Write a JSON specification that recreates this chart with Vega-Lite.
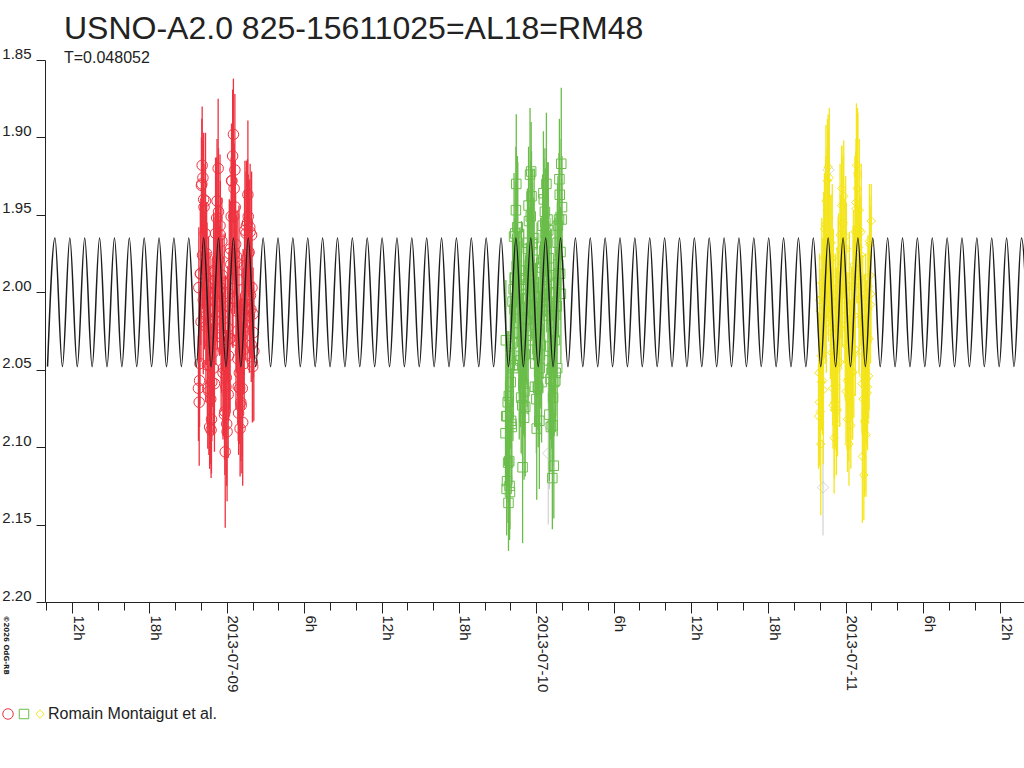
{
  "$schema": "https://vega.github.io/schema/vega-lite/v6.json",
  "width": 979,
  "height": 542,
  "autosize": {"type": "none"},
  "padding": {"left": 45, "top": 60, "right": 0, "bottom": 166},
  "background": "white",
  "config": {"view": {"stroke": null}, "font": "Liberation Sans"},
  "title": {
    "text": "USNO-A2.0 825-15611025=AL18=RM48",
    "subtitle": "T=0.048052",
    "anchor": "start",
    "frame": "group",
    "font": "Liberation Sans",
    "fontSize": 32,
    "fontWeight": "normal",
    "color": "#222222",
    "subtitleFont": "Liberation Sans",
    "subtitleFontSize": 16,
    "subtitleColor": "#222222",
    "subtitlePadding": 4,
    "dx": 19,
    "dy": 21,
    "offset": 0
  },
  "datasets": {
    "obs": [
      {"n":"1","h":21.802,"m":2.062,"e":0.034},{"n":"1","h":21.859,"m":2.071,"e":0.041},{"n":"1","h":21.917,"m":2.046,"e":0.027},{"n":"1","h":21.975,"m":1.988,"e":0.046},
      {"n":"1","h":22.032,"m":1.931,"e":0.031},{"n":"1","h":22.090,"m":1.918,"e":0.038},{"n":"1","h":22.148,"m":1.926,"e":0.024},{"n":"1","h":22.206,"m":1.940,"e":0.043},
      {"n":"1","h":22.263,"m":2.001,"e":0.036},{"n":"1","h":22.321,"m":1.962,"e":0.029},{"n":"1","h":22.379,"m":2.022,"e":0.049},{"n":"1","h":22.436,"m":1.975,"e":0.033},
      {"n":"1","h":22.494,"m":2.047,"e":0.040},{"n":"1","h":22.552,"m":2.006,"e":0.034},{"n":"1","h":22.609,"m":2.064,"e":0.041},{"n":"1","h":22.667,"m":2.087,"e":0.027},
      {"n":"1","h":22.724,"m":2.033,"e":0.046},{"n":"1","h":22.782,"m":2.089,"e":0.031},{"n":"1","h":22.840,"m":2.058,"e":0.038},{"n":"1","h":22.897,"m":2.021,"e":0.024},
      {"n":"1","h":22.955,"m":2.049,"e":0.043},{"n":"1","h":23.013,"m":1.987,"e":0.036},{"n":"1","h":23.070,"m":2.018,"e":0.029},{"n":"1","h":23.128,"m":1.962,"e":0.049},
      {"n":"1","h":23.186,"m":1.999,"e":0.033},{"n":"1","h":23.243,"m":1.941,"e":0.040},{"n":"1","h":23.301,"m":1.978,"e":0.034},{"n":"1","h":23.359,"m":1.948,"e":0.041},
      {"n":"1","h":23.416,"m":1.996,"e":0.027},{"n":"1","h":23.474,"m":1.957,"e":0.046},{"n":"1","h":23.532,"m":2.009,"e":0.031},{"n":"1","h":23.589,"m":2.027,"e":0.038},
      {"n":"1","h":23.647,"m":1.989,"e":0.024},{"n":"1","h":23.705,"m":2.052,"e":0.043},{"n":"1","h":23.762,"m":2.037,"e":0.036},{"n":"1","h":23.820,"m":2.079,"e":0.029},
      {"n":"1","h":23.878,"m":2.103,"e":0.049},{"n":"1","h":23.935,"m":2.061,"e":0.033},{"n":"1","h":23.993,"m":2.085,"e":0.040},{"n":"1","h":24.051,"m":2.023,"e":0.034},
      {"n":"1","h":24.108,"m":2.066,"e":0.041},{"n":"1","h":24.166,"m":2.001,"e":0.027},{"n":"1","h":24.224,"m":2.030,"e":0.046},{"n":"1","h":24.281,"m":1.972,"e":0.031},
      {"n":"1","h":24.339,"m":1.951,"e":0.038},{"n":"1","h":24.397,"m":1.928,"e":0.024},{"n":"1","h":24.454,"m":1.912,"e":0.043},{"n":"1","h":24.512,"m":1.898,"e":0.036},
      {"n":"1","h":24.570,"m":1.933,"e":0.029},{"n":"1","h":24.627,"m":1.921,"e":0.049},{"n":"1","h":24.685,"m":1.969,"e":0.033},{"n":"1","h":24.743,"m":2.012,"e":0.040},
      {"n":"1","h":24.800,"m":1.981,"e":0.034},{"n":"1","h":24.858,"m":2.043,"e":0.041},{"n":"1","h":24.916,"m":2.078,"e":0.027},{"n":"1","h":24.973,"m":2.052,"e":0.046},
      {"n":"1","h":25.031,"m":2.088,"e":0.031},{"n":"1","h":25.089,"m":2.071,"e":0.038},{"n":"1","h":25.146,"m":2.029,"e":0.024},{"n":"1","h":25.204,"m":2.062,"e":0.043},
      {"n":"1","h":25.262,"m":2.008,"e":0.036},{"n":"1","h":25.319,"m":2.037,"e":0.029},{"n":"1","h":25.377,"m":1.983,"e":0.049},{"n":"1","h":25.435,"m":2.011,"e":0.033},
      {"n":"1","h":25.492,"m":1.962,"e":0.040},{"n":"1","h":25.550,"m":1.989,"e":0.034},{"n":"1","h":25.608,"m":1.955,"e":0.041},{"n":"1","h":25.665,"m":1.951,"e":0.027},
      {"n":"1","h":25.723,"m":1.974,"e":0.046},{"n":"1","h":25.781,"m":1.958,"e":0.031},{"n":"1","h":25.838,"m":2.002,"e":0.038},{"n":"1","h":25.896,"m":2.034,"e":0.024},
      {"n":"1","h":25.954,"m":1.997,"e":0.043},{"n":"1","h":26.011,"m":2.048,"e":0.036},{"n":"1","h":26.069,"m":2.026,"e":0.029},
      {"n":"1","h":21.831,"m":1.997,"e":0.039},{"n":"1","h":21.888,"m":2.057,"e":0.030},{"n":"1","h":21.946,"m":1.988,"e":0.045},{"n":"1","h":22.004,"m":2.019,"e":0.026},
      {"n":"1","h":22.061,"m":1.930,"e":0.042},{"n":"1","h":22.119,"m":1.976,"e":0.035},{"n":"1","h":22.177,"m":2.005,"e":0.048},{"n":"1","h":22.235,"m":1.945,"e":0.028},
      {"n":"1","h":22.292,"m":1.985,"e":0.037},{"n":"1","h":22.350,"m":1.941,"e":0.044},{"n":"1","h":22.408,"m":2.015,"e":0.032},{"n":"1","h":22.465,"m":1.996,"e":0.041},
      {"n":"1","h":22.523,"m":2.062,"e":0.039},{"n":"1","h":22.581,"m":1.994,"e":0.030},{"n":"1","h":22.638,"m":2.047,"e":0.045},{"n":"1","h":22.696,"m":2.000,"e":0.026},
      {"n":"1","h":22.753,"m":2.069,"e":0.042},{"n":"1","h":22.811,"m":2.082,"e":0.035},{"n":"1","h":22.869,"m":2.026,"e":0.048},{"n":"1","h":22.926,"m":2.039,"e":0.028},
      {"n":"1","h":22.984,"m":1.986,"e":0.037},{"n":"1","h":23.042,"m":2.059,"e":0.044},{"n":"1","h":23.099,"m":1.992,"e":0.032},{"n":"1","h":23.157,"m":2.006,"e":0.041},
      {"n":"1","h":23.215,"m":1.952,"e":0.039},{"n":"1","h":23.272,"m":2.007,"e":0.030},{"n":"1","h":23.330,"m":1.920,"e":0.045},{"n":"1","h":23.388,"m":1.979,"e":0.026},
      {"n":"1","h":23.445,"m":1.999,"e":0.042},{"n":"1","h":23.503,"m":1.963,"e":0.035},{"n":"1","h":23.561,"m":2.029,"e":0.048},{"n":"1","h":23.618,"m":1.967,"e":0.028},
      {"n":"1","h":23.676,"m":2.014,"e":0.037},{"n":"1","h":23.733,"m":2.049,"e":0.044},{"n":"1","h":23.791,"m":1.994,"e":0.032},{"n":"1","h":23.849,"m":2.077,"e":0.041},
      {"n":"1","h":23.906,"m":2.028,"e":0.039},{"n":"1","h":23.964,"m":2.055,"e":0.030},{"n":"1","h":24.022,"m":2.090,"e":0.045},{"n":"1","h":24.079,"m":2.009,"e":0.026},
      {"n":"1","h":24.137,"m":2.041,"e":0.042},{"n":"1","h":24.195,"m":1.975,"e":0.035},{"n":"1","h":24.252,"m":2.030,"e":0.048},{"n":"1","h":24.310,"m":1.982,"e":0.028},
      {"n":"1","h":24.368,"m":1.928,"e":0.037},{"n":"1","h":24.426,"m":1.991,"e":0.044},{"n":"1","h":24.483,"m":2.004,"e":0.032},{"n":"1","h":24.541,"m":1.951,"e":0.041},
      {"n":"1","h":24.599,"m":1.975,"e":0.039},{"n":"1","h":24.656,"m":1.945,"e":0.030},{"n":"1","h":24.714,"m":2.031,"e":0.045},{"n":"1","h":24.772,"m":1.977,"e":0.026},
      {"n":"1","h":24.829,"m":2.025,"e":0.042},{"n":"1","h":24.887,"m":2.061,"e":0.035},{"n":"1","h":24.945,"m":1.992,"e":0.048},{"n":"1","h":25.002,"m":2.062,"e":0.028},
      {"n":"1","h":25.060,"m":2.038,"e":0.037},{"n":"1","h":25.118,"m":2.073,"e":0.044},{"n":"1","h":25.175,"m":2.008,"e":0.032},{"n":"1","h":25.233,"m":2.084,"e":0.041},
      {"n":"1","h":25.290,"m":2.023,"e":0.039},{"n":"1","h":25.348,"m":2.046,"e":0.030},{"n":"1","h":25.406,"m":1.960,"e":0.045},{"n":"1","h":25.463,"m":2.002,"e":0.026},
      {"n":"1","h":25.521,"m":1.957,"e":0.042},{"n":"1","h":25.579,"m":2.010,"e":0.035},{"n":"1","h":25.636,"m":1.937,"e":0.048},{"n":"1","h":25.694,"m":1.975,"e":0.028},
      {"n":"1","h":25.752,"m":2.015,"e":0.037},{"n":"1","h":25.810,"m":1.961,"e":0.044},{"n":"1","h":25.867,"m":2.011,"e":0.032},{"n":"1","h":25.925,"m":1.963,"e":0.041},
      {"n":"1","h":25.983,"m":2.045,"e":0.039},{"n":"1","h":26.040,"m":2.014,"e":0.030},{"n":"1","h":26.098,"m":2.038,"e":0.045},
      {"n":"2","h":45.616,"m":2.091,"e":0.034},{"n":"2","h":45.674,"m":2.080,"e":0.041},{"n":"2","h":45.731,"m":2.122,"e":0.027},{"n":"2","h":45.789,"m":2.071,"e":0.046},
      {"n":"2","h":45.847,"m":2.136,"e":0.031},{"n":"2","h":45.904,"m":2.109,"e":0.038},{"n":"2","h":45.962,"m":2.129,"e":0.024},{"n":"2","h":46.020,"m":2.058,"e":0.043},
      {"n":"2","h":46.077,"m":2.085,"e":0.036},{"n":"2","h":46.135,"m":2.033,"e":0.029},{"n":"2","h":46.193,"m":2.047,"e":0.049},{"n":"2","h":46.250,"m":1.998,"e":0.033},
      {"n":"2","h":46.308,"m":2.011,"e":0.040},{"n":"2","h":46.366,"m":1.962,"e":0.034},{"n":"2","h":46.423,"m":1.947,"e":0.041},{"n":"2","h":46.481,"m":1.983,"e":0.027},
      {"n":"2","h":46.539,"m":1.958,"e":0.046},{"n":"2","h":46.596,"m":2.004,"e":0.031},{"n":"2","h":46.654,"m":2.026,"e":0.038},{"n":"2","h":46.712,"m":1.991,"e":0.024},
      {"n":"2","h":46.769,"m":2.044,"e":0.043},{"n":"2","h":46.827,"m":2.068,"e":0.036},{"n":"2","h":46.885,"m":2.032,"e":0.029},{"n":"2","h":46.942,"m":2.113,"e":0.049},
      {"n":"2","h":47.000,"m":2.059,"e":0.033},{"n":"2","h":47.058,"m":2.081,"e":0.040},{"n":"2","h":47.115,"m":2.040,"e":0.034},{"n":"2","h":47.173,"m":2.017,"e":0.041},
      {"n":"2","h":47.231,"m":1.995,"e":0.027},{"n":"2","h":47.288,"m":2.028,"e":0.046},{"n":"2","h":47.346,"m":1.972,"e":0.031},{"n":"2","h":47.404,"m":1.944,"e":0.038},
      {"n":"2","h":47.461,"m":1.986,"e":0.024},{"n":"2","h":47.519,"m":1.924,"e":0.043},{"n":"2","h":47.577,"m":1.951,"e":0.036},{"n":"2","h":47.634,"m":1.938,"e":0.029},
      {"n":"2","h":47.692,"m":1.969,"e":0.049},{"n":"2","h":47.750,"m":1.997,"e":0.033},{"n":"2","h":47.807,"m":1.979,"e":0.040},{"n":"2","h":47.865,"m":2.021,"e":0.034},
      {"n":"2","h":47.923,"m":2.046,"e":0.041},{"n":"2","h":47.980,"m":2.008,"e":0.027},{"n":"2","h":48.038,"m":2.088,"e":0.046},{"n":"2","h":48.096,"m":2.037,"e":0.031},
      {"n":"2","h":48.153,"m":2.062,"e":0.038},{"n":"2","h":48.211,"m":2.024,"e":0.024},{"n":"2","h":48.269,"m":2.049,"e":0.043},{"n":"2","h":48.326,"m":2.003,"e":0.036},
      {"n":"2","h":48.384,"m":1.981,"e":0.029},{"n":"2","h":48.442,"m":2.012,"e":0.049},{"n":"2","h":48.499,"m":1.957,"e":0.033},{"n":"2","h":48.557,"m":1.936,"e":0.040},
      {"n":"2","h":48.615,"m":1.973,"e":0.034},{"n":"2","h":48.672,"m":1.948,"e":0.041},{"n":"2","h":48.730,"m":1.962,"e":0.027},{"n":"2","h":48.788,"m":1.930,"e":0.046},
      {"n":"2","h":48.845,"m":1.990,"e":0.031},{"n":"2","h":48.903,"m":2.015,"e":0.038},{"n":"2","h":48.961,"m":1.978,"e":0.024},{"n":"2","h":49.018,"m":2.079,"e":0.043},
      {"n":"2","h":49.076,"m":2.035,"e":0.036},{"n":"2","h":49.134,"m":2.087,"e":0.029},{"n":"2","h":49.191,"m":2.052,"e":0.049},{"n":"2","h":49.249,"m":2.120,"e":0.033},
      {"n":"2","h":49.307,"m":2.068,"e":0.040},{"n":"2","h":49.364,"m":2.112,"e":0.034},{"n":"2","h":49.422,"m":2.031,"e":0.041},{"n":"2","h":49.480,"m":2.057,"e":0.027},
      {"n":"2","h":49.537,"m":1.994,"e":0.046},{"n":"2","h":49.595,"m":2.009,"e":0.031},{"n":"2","h":49.653,"m":1.968,"e":0.038},{"n":"2","h":49.710,"m":1.982,"e":0.024},
      {"n":"2","h":49.768,"m":1.953,"e":0.043},{"n":"2","h":49.826,"m":1.937,"e":0.036},{"n":"2","h":49.883,"m":1.974,"e":0.029},{"n":"2","h":49.941,"m":1.917,"e":0.049},
      {"n":"2","h":49.999,"m":1.945,"e":0.033},
      {"n":"2","h":45.645,"m":2.031,"e":0.039},{"n":"2","h":45.703,"m":2.127,"e":0.030},{"n":"2","h":45.760,"m":2.080,"e":0.045},{"n":"2","h":45.818,"m":2.110,"e":0.026},
      {"n":"2","h":45.876,"m":2.067,"e":0.042},{"n":"2","h":45.933,"m":2.125,"e":0.035},{"n":"2","h":45.991,"m":2.035,"e":0.048},{"n":"2","h":46.049,"m":2.083,"e":0.028},
      {"n":"2","h":46.106,"m":2.087,"e":0.037},{"n":"2","h":46.164,"m":2.006,"e":0.044},{"n":"2","h":46.222,"m":2.049,"e":0.032},{"n":"2","h":46.279,"m":1.964,"e":0.041},
      {"n":"2","h":46.337,"m":1.991,"e":0.039},{"n":"2","h":46.395,"m":1.990,"e":0.030},{"n":"2","h":46.452,"m":1.930,"e":0.045},{"n":"2","h":46.510,"m":2.004,"e":0.026},
      {"n":"2","h":46.568,"m":1.958,"e":0.042},{"n":"2","h":46.625,"m":1.996,"e":0.035},{"n":"2","h":46.683,"m":2.047,"e":0.048},{"n":"2","h":46.741,"m":1.986,"e":0.028},
      {"n":"2","h":46.798,"m":2.041,"e":0.037},{"n":"2","h":46.856,"m":1.998,"e":0.044},{"n":"2","h":46.914,"m":2.073,"e":0.032},{"n":"2","h":46.971,"m":2.041,"e":0.041},
      {"n":"2","h":47.029,"m":1.998,"e":0.039},{"n":"2","h":47.087,"m":2.064,"e":0.030},{"n":"2","h":47.144,"m":2.074,"e":0.045},{"n":"2","h":47.202,"m":2.010,"e":0.026},
      {"n":"2","h":47.260,"m":2.018,"e":0.042},{"n":"2","h":47.317,"m":1.968,"e":0.035},{"n":"2","h":47.375,"m":2.031,"e":0.048},{"n":"2","h":47.433,"m":1.954,"e":0.028},
      {"n":"2","h":47.490,"m":1.982,"e":0.037},{"n":"2","h":47.548,"m":2.002,"e":0.044},{"n":"2","h":47.606,"m":1.922,"e":0.032},{"n":"2","h":47.663,"m":1.989,"e":0.041},
      {"n":"2","h":47.721,"m":1.968,"e":0.039},{"n":"2","h":47.779,"m":2.014,"e":0.030},{"n":"2","h":47.836,"m":1.965,"e":0.045},{"n":"2","h":47.894,"m":2.061,"e":0.026},
      {"n":"2","h":47.952,"m":2.023,"e":0.042},{"n":"2","h":48.009,"m":2.069,"e":0.035},{"n":"2","h":48.067,"m":2.003,"e":0.048},{"n":"2","h":48.125,"m":2.061,"e":0.028},
      {"n":"2","h":48.182,"m":2.027,"e":0.037},{"n":"2","h":48.240,"m":2.083,"e":0.044},{"n":"2","h":48.298,"m":2.007,"e":0.032},{"n":"2","h":48.355,"m":2.034,"e":0.041},
      {"n":"2","h":48.413,"m":2.058,"e":0.039},{"n":"2","h":48.471,"m":1.984,"e":0.030},{"n":"2","h":48.528,"m":2.011,"e":0.045},{"n":"2","h":48.586,"m":1.940,"e":0.026},
      {"n":"2","h":48.644,"m":2.002,"e":0.042},{"n":"2","h":48.701,"m":1.955,"e":0.035},{"n":"2","h":48.759,"m":1.968,"e":0.048},{"n":"2","h":48.817,"m":1.998,"e":0.028},
      {"n":"2","h":48.874,"m":1.953,"e":0.037},{"n":"2","h":48.932,"m":1.960,"e":0.044},{"n":"2","h":48.990,"m":2.044,"e":0.032},{"n":"2","h":49.047,"m":2.001,"e":0.041},
      {"n":"2","h":49.105,"m":2.056,"e":0.039},{"n":"2","h":49.163,"m":1.989,"e":0.030},{"n":"2","h":49.220,"m":2.049,"e":0.045},{"n":"2","h":49.278,"m":2.086,"e":0.026},
      {"n":"2","h":49.336,"m":2.026,"e":0.042},{"n":"2","h":49.393,"m":2.058,"e":0.035},{"n":"2","h":49.451,"m":2.000,"e":0.048},{"n":"2","h":49.509,"m":2.052,"e":0.028},
      {"n":"2","h":49.566,"m":2.009,"e":0.037},{"n":"2","h":49.624,"m":2.049,"e":0.044},{"n":"2","h":49.682,"m":1.957,"e":0.032},{"n":"2","h":49.739,"m":1.988,"e":0.041},
      {"n":"2","h":49.797,"m":1.927,"e":0.039},{"n":"2","h":49.855,"m":1.988,"e":0.030},{"n":"2","h":49.912,"m":2.001,"e":0.045},{"n":"2","h":49.970,"m":1.953,"e":0.026},
      {"n":"3","h":69.892,"m":2.080,"e":0.034},{"n":"3","h":69.950,"m":2.071,"e":0.041},{"n":"3","h":70.008,"m":2.012,"e":0.027},{"n":"3","h":70.065,"m":2.098,"e":0.046},
      {"n":"3","h":70.123,"m":2.058,"e":0.031},{"n":"3","h":70.181,"m":2.003,"e":0.038},{"n":"3","h":70.238,"m":2.044,"e":0.024},{"n":"3","h":70.296,"m":1.978,"e":0.043},
      {"n":"3","h":70.353,"m":1.959,"e":0.036},{"n":"3","h":70.411,"m":2.017,"e":0.029},{"n":"3","h":70.469,"m":1.941,"e":0.049},{"n":"3","h":70.526,"m":1.995,"e":0.033},
      {"n":"3","h":70.584,"m":1.928,"e":0.040},{"n":"3","h":70.642,"m":1.919,"e":0.034},{"n":"3","h":70.699,"m":1.952,"e":0.041},{"n":"3","h":70.757,"m":1.986,"e":0.027},
      {"n":"3","h":70.815,"m":2.010,"e":0.046},{"n":"3","h":70.872,"m":1.968,"e":0.031},{"n":"3","h":70.930,"m":2.039,"e":0.038},{"n":"3","h":70.988,"m":2.062,"e":0.024},
      {"n":"3","h":71.045,"m":2.002,"e":0.043},{"n":"3","h":71.103,"m":2.094,"e":0.036},{"n":"3","h":71.161,"m":2.071,"e":0.029},{"n":"3","h":71.218,"m":2.033,"e":0.049},
      {"n":"3","h":71.276,"m":2.085,"e":0.033},{"n":"3","h":71.334,"m":2.011,"e":0.040},{"n":"3","h":71.391,"m":2.049,"e":0.034},{"n":"3","h":71.449,"m":1.990,"e":0.041},
      {"n":"3","h":71.506,"m":2.024,"e":0.027},{"n":"3","h":71.564,"m":1.963,"e":0.046},{"n":"3","h":71.622,"m":1.999,"e":0.031},{"n":"3","h":71.679,"m":1.944,"e":0.038},
      {"n":"3","h":71.737,"m":1.981,"e":0.024},{"n":"3","h":71.795,"m":1.956,"e":0.043},{"n":"3","h":71.852,"m":1.938,"e":0.036},{"n":"3","h":71.910,"m":1.997,"e":0.029},
      {"n":"3","h":71.968,"m":2.021,"e":0.049},{"n":"3","h":72.025,"m":2.064,"e":0.033},{"n":"3","h":72.083,"m":2.035,"e":0.040},{"n":"3","h":72.141,"m":2.082,"e":0.034},
      {"n":"3","h":72.198,"m":2.056,"e":0.041},{"n":"3","h":72.256,"m":2.098,"e":0.027},{"n":"3","h":72.314,"m":2.027,"e":0.046},{"n":"3","h":72.371,"m":2.066,"e":0.031},
      {"n":"3","h":72.429,"m":2.044,"e":0.038},{"n":"3","h":72.487,"m":2.007,"e":0.024},{"n":"3","h":72.544,"m":2.052,"e":0.043},{"n":"3","h":72.602,"m":1.983,"e":0.036},
      {"n":"3","h":72.660,"m":2.015,"e":0.029},{"n":"3","h":72.717,"m":1.961,"e":0.049},{"n":"3","h":72.775,"m":1.942,"e":0.033},{"n":"3","h":72.832,"m":1.918,"e":0.040},
      {"n":"3","h":72.890,"m":1.933,"e":0.034},{"n":"3","h":72.948,"m":1.925,"e":0.041},{"n":"3","h":73.005,"m":1.971,"e":0.027},{"n":"3","h":73.063,"m":1.947,"e":0.046},
      {"n":"3","h":73.121,"m":2.004,"e":0.031},{"n":"3","h":73.178,"m":1.976,"e":0.038},{"n":"3","h":73.236,"m":2.038,"e":0.024},{"n":"3","h":73.294,"m":2.106,"e":0.043},
      {"n":"3","h":73.351,"m":2.069,"e":0.036},{"n":"3","h":73.409,"m":2.118,"e":0.029},{"n":"3","h":73.467,"m":2.083,"e":0.049},{"n":"3","h":73.524,"m":2.057,"e":0.033},
      {"n":"3","h":73.582,"m":2.092,"e":0.040},{"n":"3","h":73.640,"m":2.026,"e":0.034},{"n":"3","h":73.697,"m":2.061,"e":0.041},{"n":"3","h":73.755,"m":1.996,"e":0.027},
      {"n":"3","h":73.813,"m":2.030,"e":0.046},{"n":"3","h":73.870,"m":1.969,"e":0.031},{"n":"3","h":73.928,"m":2.008,"e":0.038},{"n":"3","h":73.986,"m":1.954,"e":0.024},
      {"n":"3","h":69.921,"m":2.052,"e":0.039},{"n":"3","h":69.979,"m":2.005,"e":0.030},{"n":"3","h":70.037,"m":2.077,"e":0.045},{"n":"3","h":70.094,"m":2.041,"e":0.026},
      {"n":"3","h":70.152,"m":1.994,"e":0.042},{"n":"3","h":70.210,"m":2.057,"e":0.035},{"n":"3","h":70.267,"m":2.063,"e":0.048},{"n":"3","h":70.325,"m":1.998,"e":0.028},
      {"n":"3","h":70.382,"m":2.005,"e":0.037},{"n":"3","h":70.440,"m":1.956,"e":0.044},{"n":"3","h":70.498,"m":2.020,"e":0.032},{"n":"3","h":70.555,"m":1.947,"e":0.041},
      {"n":"3","h":70.613,"m":1.978,"e":0.039},{"n":"3","h":70.671,"m":2.002,"e":0.030},{"n":"3","h":70.728,"m":1.926,"e":0.045},{"n":"3","h":70.786,"m":1.996,"e":0.026},
      {"n":"3","h":70.844,"m":1.979,"e":0.042},{"n":"3","h":70.901,"m":2.026,"e":0.035},{"n":"3","h":70.959,"m":1.978,"e":0.048},{"n":"3","h":71.017,"m":2.073,"e":0.028},
      {"n":"3","h":71.074,"m":2.034,"e":0.037},{"n":"3","h":71.132,"m":2.076,"e":0.044},{"n":"3","h":71.190,"m":2.007,"e":0.032},{"n":"3","h":71.247,"m":2.061,"e":0.041},
      {"n":"3","h":71.305,"m":2.023,"e":0.039},{"n":"3","h":71.363,"m":2.076,"e":0.030},{"n":"3","h":71.420,"m":1.996,"e":0.045},{"n":"3","h":71.478,"m":2.022,"e":0.026},
      {"n":"3","h":71.535,"m":2.045,"e":0.042},{"n":"3","h":71.593,"m":1.972,"e":0.035},{"n":"3","h":71.651,"m":2.000,"e":0.048},{"n":"3","h":71.708,"m":1.933,"e":0.028},
      {"n":"3","h":71.766,"m":1.998,"e":0.037},{"n":"3","h":71.824,"m":1.955,"e":0.044},{"n":"3","h":71.881,"m":1.972,"e":0.032},{"n":"3","h":71.939,"m":2.005,"e":0.041},
      {"n":"3","h":71.997,"m":1.964,"e":0.039},{"n":"3","h":72.054,"m":1.972,"e":0.030},{"n":"3","h":72.112,"m":2.057,"e":0.045},{"n":"3","h":72.170,"m":2.013,"e":0.026},
      {"n":"3","h":72.227,"m":2.067,"e":0.042},{"n":"3","h":72.285,"m":1.996,"e":0.035},{"n":"3","h":72.343,"m":2.053,"e":0.048},{"n":"3","h":72.400,"m":2.086,"e":0.028},
      {"n":"3","h":72.458,"m":2.022,"e":0.037},{"n":"3","h":72.516,"m":2.051,"e":0.044},{"n":"3","h":72.573,"m":1.989,"e":0.032},{"n":"3","h":72.631,"m":2.040,"e":0.041},
      {"n":"3","h":72.689,"m":1.996,"e":0.039},{"n":"3","h":72.746,"m":2.037,"e":0.030},{"n":"3","h":72.804,"m":1.946,"e":0.045},{"n":"3","h":72.861,"m":1.981,"e":0.026},
      {"n":"3","h":72.919,"m":1.923,"e":0.042},{"n":"3","h":72.977,"m":1.988,"e":0.035},{"n":"3","h":73.034,"m":2.005,"e":0.048},{"n":"3","h":73.092,"m":1.960,"e":0.028},
      {"n":"3","h":73.150,"m":1.991,"e":0.037},{"n":"3","h":73.207,"m":1.961,"e":0.044},{"n":"3","h":73.265,"m":2.059,"e":0.032},{"n":"3","h":73.323,"m":2.017,"e":0.041},
      {"n":"3","h":73.380,"m":2.054,"e":0.039},{"n":"3","h":73.438,"m":2.018,"e":0.030},{"n":"3","h":73.496,"m":2.084,"e":0.045},{"n":"3","h":73.553,"m":2.001,"e":0.026},
      {"n":"3","h":73.611,"m":2.056,"e":0.042},{"n":"3","h":73.669,"m":2.065,"e":0.035},{"n":"3","h":73.726,"m":2.011,"e":0.048},{"n":"3","h":73.784,"m":2.054,"e":0.028},
      {"n":"3","h":73.842,"m":1.967,"e":0.037},{"n":"3","h":73.899,"m":1.989,"e":0.044},{"n":"3","h":73.957,"m":2.001,"e":0.032}
    ],
    "gray": [
      {"h":70.24,"m":2.126,"e":0.031},{"h":70.66,"m":1.921,"e":0.026},{"h":48.93,"m":2.104,"e":0.046},{"h":49.02,"m":2.086,"e":0.041}
    ],
    "model": [
      {"h":10.096,"m":2.048},{"h":10.673,"m":1.965},{"h":11.250,"m":2.048},{"h":11.826,"m":1.965},{"h":12.403,"m":2.048},{"h":12.980,"m":1.965},
      {"h":13.556,"m":2.048},{"h":14.133,"m":1.965},{"h":14.709,"m":2.048},{"h":15.286,"m":1.965},{"h":15.863,"m":2.048},{"h":16.439,"m":1.965},
      {"h":17.016,"m":2.048},{"h":17.593,"m":1.965},{"h":18.169,"m":2.048},{"h":18.746,"m":1.965},{"h":19.322,"m":2.048},{"h":19.899,"m":1.965},
      {"h":20.476,"m":2.048},{"h":21.052,"m":1.965},{"h":21.629,"m":2.048},{"h":22.206,"m":1.965},{"h":22.782,"m":2.048},{"h":23.359,"m":1.965},
      {"h":23.935,"m":2.048},{"h":24.512,"m":1.965},{"h":25.089,"m":2.048},{"h":25.665,"m":1.965},{"h":26.242,"m":2.048},{"h":26.818,"m":1.965},
      {"h":27.395,"m":2.048},{"h":27.972,"m":1.965},{"h":28.548,"m":2.048},{"h":29.125,"m":1.965},{"h":29.702,"m":2.048},{"h":30.278,"m":1.965},
      {"h":30.855,"m":2.048},{"h":31.431,"m":1.965},{"h":32.008,"m":2.048},{"h":32.585,"m":1.965},{"h":33.161,"m":2.048},{"h":33.738,"m":1.965},
      {"h":34.315,"m":2.048},{"h":34.891,"m":1.965},{"h":35.468,"m":2.048},{"h":36.044,"m":1.965},{"h":36.621,"m":2.048},{"h":37.198,"m":1.965},
      {"h":37.774,"m":2.048},{"h":38.351,"m":1.965},{"h":38.928,"m":2.048},{"h":39.504,"m":1.965},{"h":40.081,"m":2.048},{"h":40.657,"m":1.965},
      {"h":41.234,"m":2.048},{"h":41.811,"m":1.965},{"h":42.387,"m":2.048},{"h":42.964,"m":1.965},{"h":43.541,"m":2.048},{"h":44.117,"m":1.965},
      {"h":44.694,"m":2.048},{"h":45.270,"m":1.965},{"h":45.847,"m":2.048},{"h":46.424,"m":1.965},{"h":47.000,"m":2.048},{"h":47.577,"m":1.965},
      {"h":48.154,"m":2.048},{"h":48.730,"m":1.965},{"h":49.307,"m":2.048},{"h":49.883,"m":1.965},{"h":50.460,"m":2.048},{"h":51.037,"m":1.965},
      {"h":51.613,"m":2.048},{"h":52.190,"m":1.965},{"h":52.767,"m":2.048},{"h":53.343,"m":1.965},{"h":53.920,"m":2.048},{"h":54.496,"m":1.965},
      {"h":55.073,"m":2.048},{"h":55.650,"m":1.965},{"h":56.226,"m":2.048},{"h":56.803,"m":1.965},{"h":57.380,"m":2.048},{"h":57.956,"m":1.965},
      {"h":58.533,"m":2.048},{"h":59.109,"m":1.965},{"h":59.686,"m":2.048},{"h":60.263,"m":1.965},{"h":60.839,"m":2.048},{"h":61.416,"m":1.965},
      {"h":61.993,"m":2.048},{"h":62.569,"m":1.965},{"h":63.146,"m":2.048},{"h":63.722,"m":1.965},{"h":64.299,"m":2.048},{"h":64.876,"m":1.965},
      {"h":65.452,"m":2.048},{"h":66.029,"m":1.965},{"h":66.606,"m":2.048},{"h":67.182,"m":1.965},{"h":67.759,"m":2.048},{"h":68.335,"m":1.965},
      {"h":68.912,"m":2.048},{"h":69.489,"m":1.965},{"h":70.065,"m":2.048},{"h":70.642,"m":1.965},{"h":71.219,"m":2.048},{"h":71.795,"m":1.965},
      {"h":72.372,"m":2.048},{"h":72.948,"m":1.965},{"h":73.525,"m":2.048},{"h":74.102,"m":1.965},{"h":74.678,"m":2.048},{"h":75.255,"m":1.965},
      {"h":75.832,"m":2.048},{"h":76.408,"m":1.965},{"h":76.985,"m":2.048},{"h":77.561,"m":1.965},{"h":78.138,"m":2.048},{"h":78.715,"m":1.965},
      {"h":79.291,"m":2.048},{"h":79.868,"m":1.965},{"h":80.445,"m":2.048},{"h":81.021,"m":1.965},{"h":81.598,"m":2.048},{"h":82.174,"m":1.965},
      {"h":82.751,"m":2.048},{"h":83.328,"m":1.965},{"h":83.904,"m":2.048},{"h":84.481,"m":1.965},{"h":85.058,"m":2.048},{"h":85.634,"m":1.965},
      {"h":86.211,"m":2.048}
    ]
  },
  "encoding": {
    "x": {
      "field": "h",
      "type": "quantitative",
      "scale": {"domain": [9.9, 85.83], "nice": false, "zero": false},
      "axis": {
        "title": null,
        "grid": false,
        "values": [10,12,14,16,18,20,22,24,26,28,30,32,34,36,38,40,42,44,46,48,50,52,54,56,58,60,62,64,66,68,70,72,74,76,78,80,82,84],
        "labelExpr": "datum.value % 24 == 0 ? '2013-07-' + (8 + datum.value / 24 < 10 ? '0' : '') + (8 + datum.value / 24) : (datum.value % 6 == 0 ? (datum.value % 24) + 'h' : '')",
        "tickSize": {"condition": {"test": "datum.value % 6 == 0", "value": 11}, "value": 8},
        "tickColor": "#222222",
        "domainColor": "#222222",
        "labelAngle": 90,
        "labelAlign": "left",
        "labelBaseline": "alphabetic",
        "labelOffset": 1,
        "labelPadding": 2,
        "labelFont": "Liberation Sans",
        "labelFontSize": 15,
        "labelColor": "#222222",
        "labelOverlap": false,
        "labelFlush": false,
        "labelBound": false
      }
    },
    "y": {
      "field": "m",
      "type": "quantitative",
      "scale": {"domain": [1.85, 2.2], "reverse": true, "nice": false, "zero": false},
      "axis": {
        "grid": false,
        "values": [1.85, 1.9, 1.95, 2.0, 2.05, 2.1, 2.15, 2.2],
        "format": ".2f",
        "tickSize": 9,
        "tickColor": "#222222",
        "domainColor": "#222222",
        "labelPadding": 5,
        "labelBaseline": "alphabetic",
        "labelOffset": -2,
        "labelFont": "Liberation Sans",
        "labelFontSize": 15,
        "labelColor": "#222222",
        "labelOverlap": false,
        "labelFlush": false,
        "labelBound": false,
        "title": "©2026 OdG-RB",
        "titleAngle": 90,
        "titleFont": "DejaVu Sans",
        "titleFontSize": 7,
        "titleFontWeight": "bold",
        "titleColor": "#222222",
        "titleAlign": "left",
        "titleBaseline": "alphabetic",
        "titleX": -42,
        "titleY": 555
      }
    }
  },
  "layer": [
    {
      "data": {"name": "gray"},
      "mark": {"type": "errorbar", "color": "#c8c8c8", "thickness": 1},
      "encoding": {"yError": {"field": "e"}}
    },
    {
      "data": {"name": "gray"},
      "mark": {"type": "point", "shape": "diamond", "filled": false, "color": "#c8c8c8", "size": 130, "strokeWidth": 1}
    },
    {
      "data": {"name": "obs"},
      "mark": {"type": "errorbar", "thickness": 1.3},
      "encoding": {
        "yError": {"field": "e"},
        "color": {
          "field": "n",
          "type": "ordinal",
          "scale": {"domain": ["1", "2", "3"], "range": ["#ee3340", "#6abd4a", "#f4e51c"]},
          "legend": {
            "orient": "none", "legendX": -45, "legendY": 646, "direction": "horizontal", "columns": 3,
            "title": null, "padding": 0, "rowPadding": 0, "columnPadding": 0, "labelOffset": 0, "labelLimit": 0,
            "labelExpr": "datum.label == '3' ? 'Romain Montaigut et al.' : ''",
            "labelFont": "Liberation Sans", "labelFontSize": 16, "labelColor": "#222222", "symbolStrokeWidth": 1
          }
        }
      }
    },
    {
      "data": {"name": "obs"},
      "mark": {"type": "point", "filled": false, "strokeWidth": 1, "opacity": 1},
      "encoding": {
        "color": {
          "field": "n",
          "type": "ordinal",
          "scale": {"domain": ["1", "2", "3"], "range": ["#ee3340", "#6abd4a", "#f4e51c"]},
          "legend": {
            "orient": "none", "legendX": -45, "legendY": 646, "direction": "horizontal", "columns": 3,
            "title": null, "padding": 0, "rowPadding": 0, "columnPadding": 0, "labelOffset": 0, "labelLimit": 0,
            "labelExpr": "datum.label == '3' ? 'Romain Montaigut et al.' : ''",
            "labelFont": "Liberation Sans", "labelFontSize": 16, "labelColor": "#222222", "symbolStrokeWidth": 1
          }
        },
        "shape": {
          "field": "n",
          "type": "ordinal",
          "scale": {"domain": ["1", "2", "3"], "range": ["circle", "square", "diamond"]},
          "legend": {
            "orient": "none", "legendX": -45, "legendY": 646, "direction": "horizontal", "columns": 3,
            "title": null, "padding": 0, "rowPadding": 0, "columnPadding": 0, "labelOffset": 0, "labelLimit": 0,
            "labelExpr": "datum.label == '3' ? 'Romain Montaigut et al.' : ''",
            "labelFont": "Liberation Sans", "labelFontSize": 16, "labelColor": "#222222", "symbolStrokeWidth": 1
          }
        },
        "size": {
          "field": "n",
          "type": "ordinal",
          "scale": {"domain": ["1", "2", "3"], "range": [110, 70, 130]},
          "legend": {
            "orient": "none", "legendX": -45, "legendY": 646, "direction": "horizontal", "columns": 3,
            "title": null, "padding": 0, "rowPadding": 0, "columnPadding": 0, "labelOffset": 0, "labelLimit": 0,
            "labelExpr": "datum.label == '3' ? 'Romain Montaigut et al.' : ''",
            "labelFont": "Liberation Sans", "labelFontSize": 16, "labelColor": "#222222", "symbolStrokeWidth": 1
          }
        }
      }
    },
    {
      "data": {"name": "model"},
      "mark": {"type": "line", "interpolate": "monotone", "color": "#1e1e1e", "strokeWidth": 1.5, "clip": true},
      "encoding": {}
    }
  ]
}
